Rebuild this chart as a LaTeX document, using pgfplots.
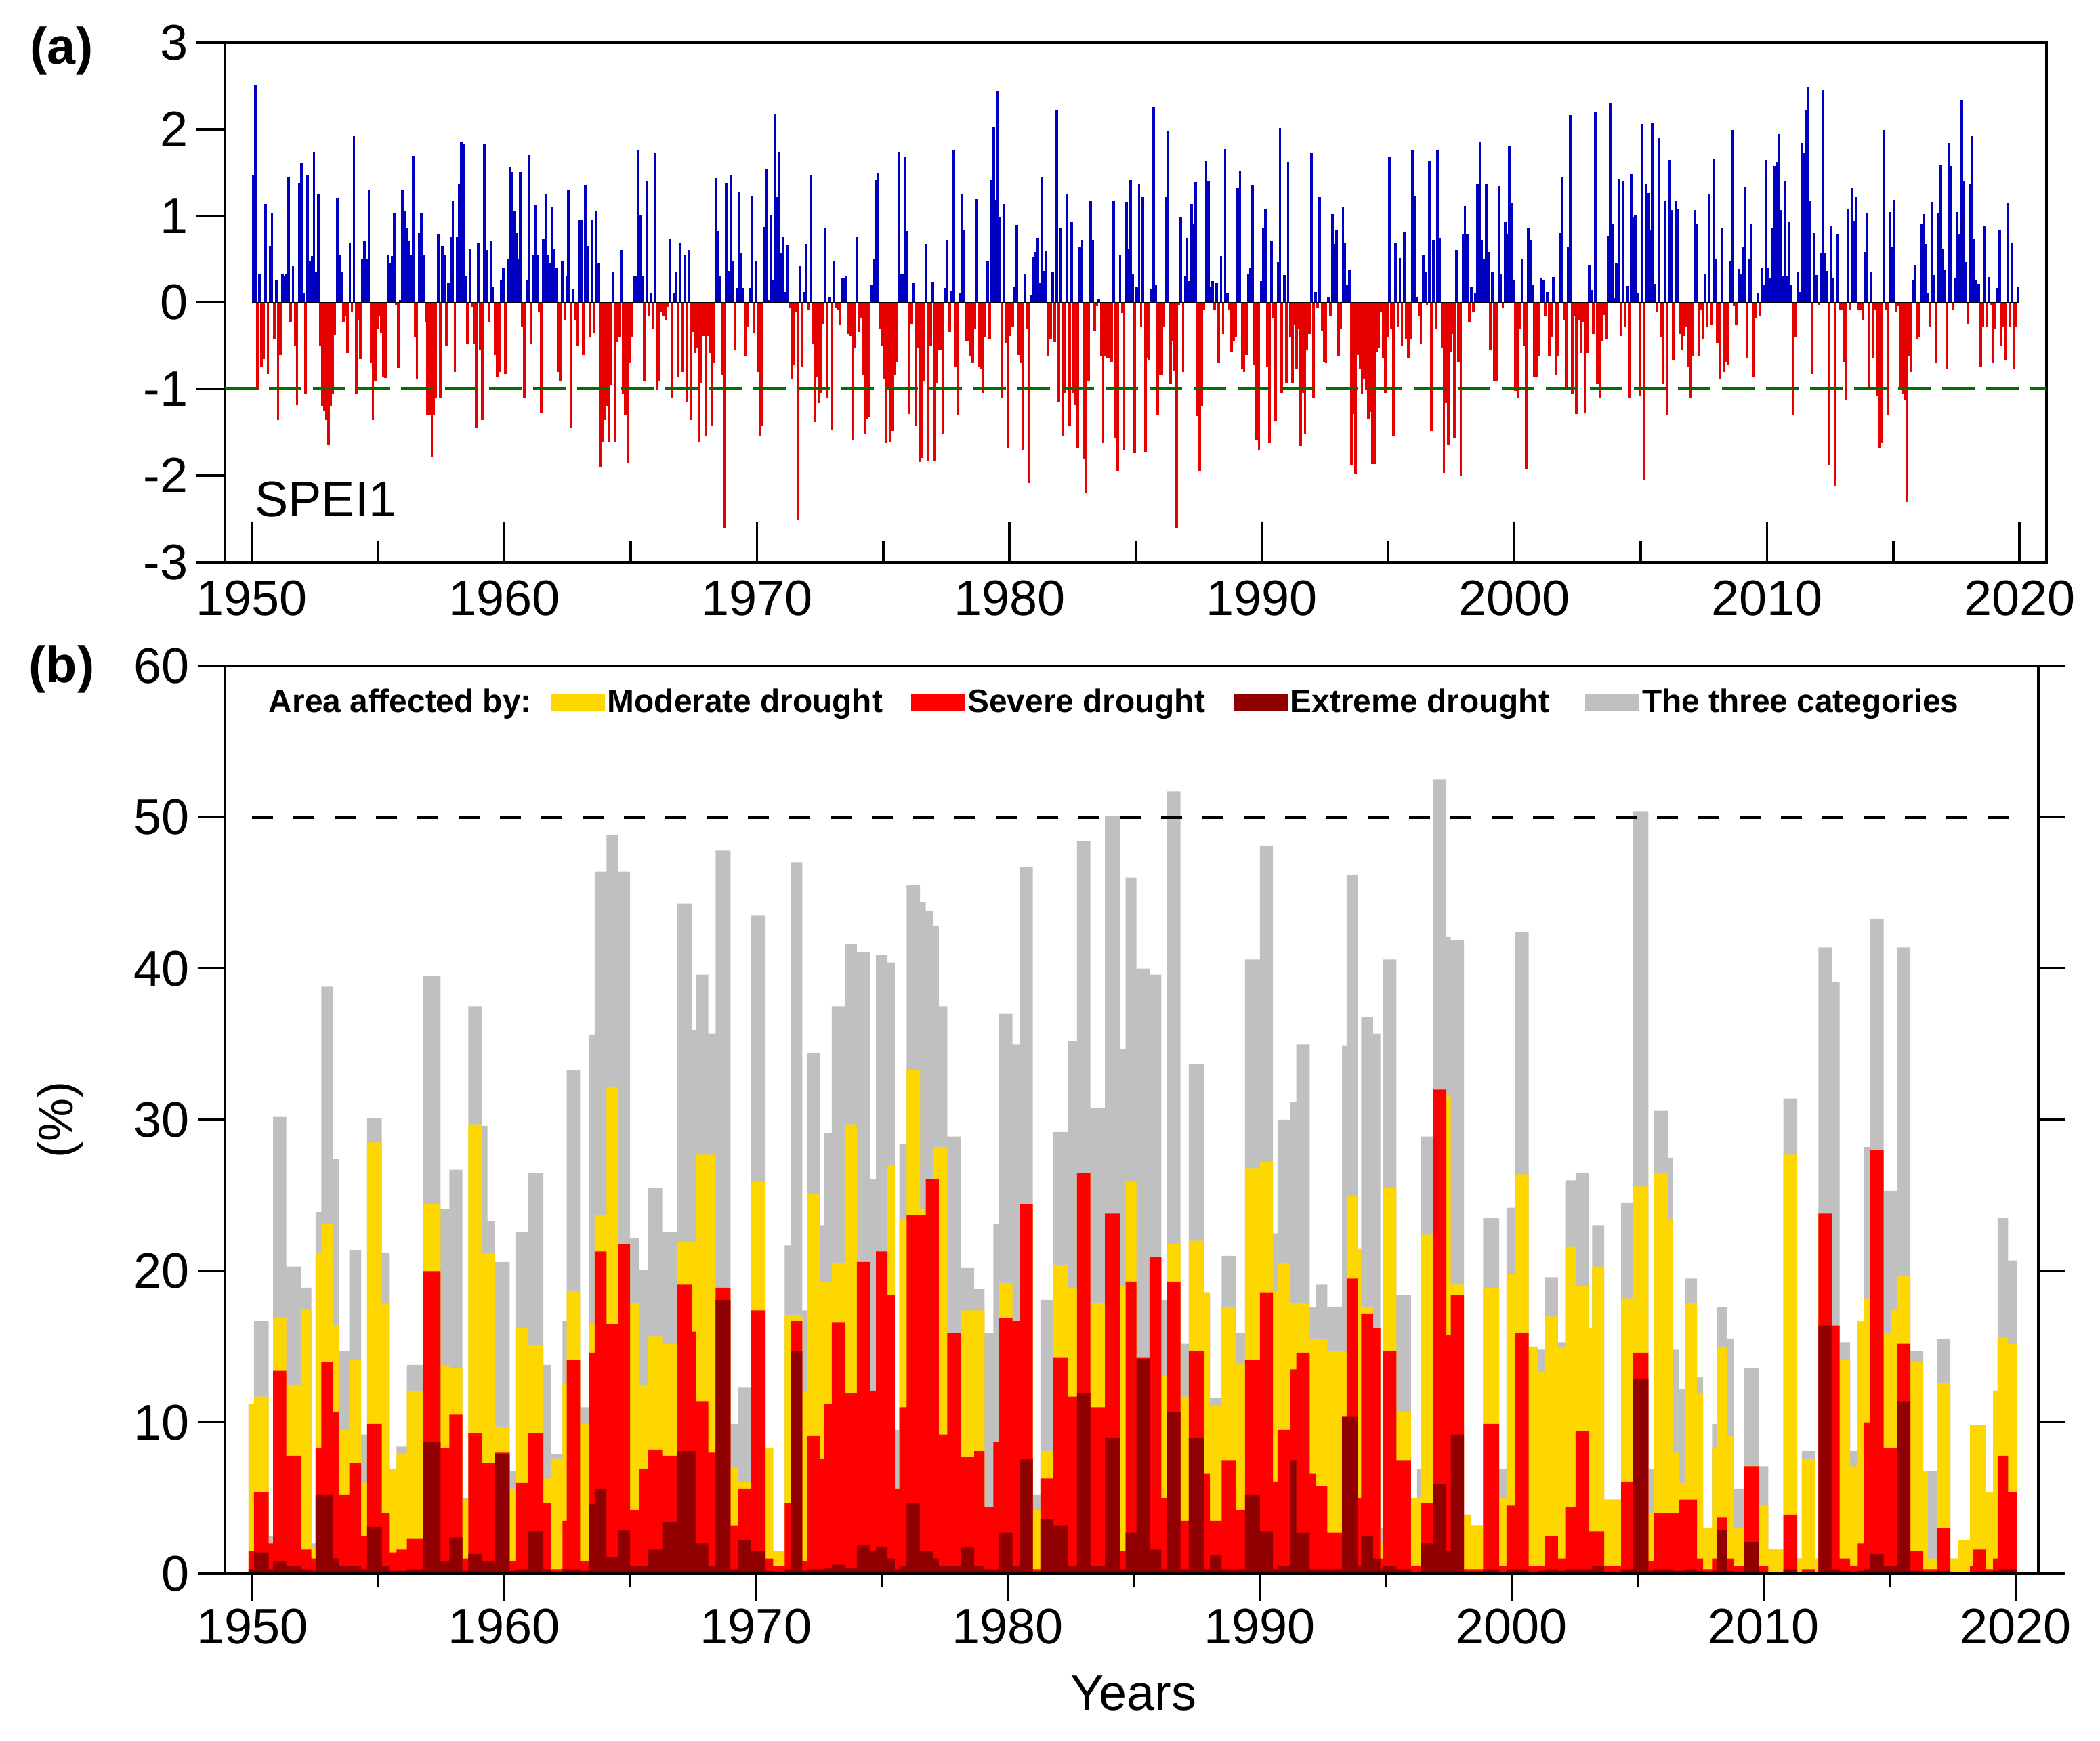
\documentclass[border=0pt]{standalone}
\usepackage{pgfplots}
\pgfplotsset{compat=1.18}
\usepackage{pgfplotstable}
\usepackage{fontspec}
\setmainfont{Liberation Sans}
\definecolor{cblue}{RGB}{0,0,195}
\definecolor{cred}{RGB}{230,0,0}
\definecolor{cgreen}{RGB}{0,110,0}
\definecolor{cgold}{RGB}{255,215,0}
\definecolor{cred2}{RGB}{255,0,0}
\definecolor{cdark}{RGB}{145,0,0}
\definecolor{cgray}{RGB}{192,192,192}

\pgfplotstableread[row sep=\\]{
x v\\
1950.04 1.46\\ 1950.13 2.5\\ 1950.21 -1.0\\ 1950.29 0.33\\ 1950.38 -0.74\\ 1950.46 -0.65\\ 1950.54 1.13\\ 1950.63 -0.82\\ 1950.71 0.65\\ 1950.79 1.03\\ 1950.88 -0.42\\ 1950.96 0.25\\
1951.04 -1.35\\ 1951.13 -0.6\\ 1951.21 0.33\\ 1951.29 0.3\\ 1951.38 0.32\\ 1951.46 1.45\\ 1951.54 -0.22\\ 1951.63 0.42\\ 1951.71 -0.5\\ 1951.79 -1.18\\ 1951.88 1.38\\ 1951.96 1.6\\
1952.04 0.1\\ 1952.13 -1.05\\ 1952.21 1.47\\ 1952.29 0.48\\ 1952.38 0.53\\ 1952.46 1.74\\ 1952.54 0.35\\ 1952.63 1.24\\ 1952.71 -0.5\\ 1952.79 -1.2\\ 1952.88 -1.25\\ 1952.96 -1.35\\
1953.04 -1.64\\ 1953.13 -1.2\\ 1953.21 -1.05\\ 1953.29 -0.37\\ 1953.38 1.2\\ 1953.46 0.55\\ 1953.54 0.35\\ 1953.63 -0.22\\ 1953.71 -0.15\\ 1953.79 -0.58\\ 1953.88 0.68\\ 1953.96 -0.1\\
1954.04 1.92\\ 1954.13 -1.05\\ 1954.21 -0.2\\ 1954.29 -0.65\\ 1954.38 0.5\\ 1954.46 0.7\\ 1954.54 0.5\\ 1954.63 1.3\\ 1954.71 -0.7\\ 1954.79 -1.35\\ 1954.88 -0.9\\ 1954.96 -0.3\\
1955.04 -0.15\\ 1955.13 -0.35\\ 1955.21 -0.85\\ 1955.29 -0.87\\ 1955.38 0.55\\ 1955.46 0.45\\ 1955.54 0.53\\ 1955.63 1.03\\ 1955.71 -0.02\\ 1955.79 -0.75\\ 1955.88 0.02\\ 1955.96 1.3\\
1956.04 1.05\\ 1956.13 0.85\\ 1956.21 0.7\\ 1956.29 0.55\\ 1956.38 1.68\\ 1956.46 -0.4\\ 1956.54 -0.88\\ 1956.63 0.8\\ 1956.71 1.03\\ 1956.79 0.55\\ 1956.88 -0.22\\ 1956.96 -1.3\\
1957.04 -1.3\\ 1957.13 -1.78\\ 1957.21 -1.3\\ 1957.29 -1.1\\ 1957.38 0.78\\ 1957.46 -1.1\\ 1957.54 0.65\\ 1957.63 0.55\\ 1957.71 -0.5\\ 1957.79 0.22\\ 1957.88 0.75\\ 1957.96 1.17\\
1958.04 -0.8\\ 1958.13 0.75\\ 1958.21 1.37\\ 1958.29 1.85\\ 1958.38 1.82\\ 1958.46 0.3\\ 1958.54 -0.48\\ 1958.63 0.62\\ 1958.71 -0.05\\ 1958.79 -0.48\\ 1958.88 -1.45\\ 1958.96 0.68\\
1959.04 -0.55\\ 1959.13 -1.35\\ 1959.21 1.82\\ 1959.29 0.6\\ 1959.38 -0.22\\ 1959.46 0.7\\ 1959.54 0.17\\ 1959.63 -0.6\\ 1959.71 -0.85\\ 1959.79 -0.8\\ 1959.88 0.25\\ 1959.96 0.4\\
1960.04 -0.82\\ 1960.13 0.5\\ 1960.21 1.56\\ 1960.29 1.5\\ 1960.38 1.05\\ 1960.46 0.8\\ 1960.54 0.5\\ 1960.63 1.5\\ 1960.71 -0.27\\ 1960.79 -1.1\\ 1960.88 0.25\\ 1960.96 1.7\\
1961.04 -0.48\\ 1961.13 0.55\\ 1961.21 1.12\\ 1961.29 0.55\\ 1961.38 -0.1\\ 1961.46 -1.27\\ 1961.54 0.73\\ 1961.63 1.25\\ 1961.71 0.55\\ 1961.79 0.45\\ 1961.88 1.1\\ 1961.96 0.62\\
1962.04 0.4\\ 1962.13 -0.8\\ 1962.21 -0.9\\ 1962.29 0.47\\ 1962.38 -0.2\\ 1962.46 0.3\\ 1962.54 1.3\\ 1962.63 -1.45\\ 1962.71 0.15\\ 1962.79 -0.2\\ 1962.88 -0.5\\ 1962.96 0.95\\
1963.04 0.95\\ 1963.13 -0.6\\ 1963.21 1.35\\ 1963.29 0.65\\ 1963.38 -0.4\\ 1963.46 0.95\\ 1963.54 -0.35\\ 1963.63 1.05\\ 1963.71 0.45\\ 1963.79 -1.9\\ 1963.88 -1.6\\ 1963.96 -1.35\\
1964.04 -1.2\\ 1964.13 -1.6\\ 1964.21 -0.95\\ 1964.29 0.35\\ 1964.38 -1.6\\ 1964.46 -0.45\\ 1964.54 -0.4\\ 1964.63 0.6\\ 1964.71 -1.05\\ 1964.79 -1.3\\ 1964.88 -1.85\\ 1964.96 -0.7\\
1965.04 -0.4\\ 1965.13 0.3\\ 1965.21 0.3\\ 1965.29 1.75\\ 1965.38 1.0\\ 1965.46 0.3\\ 1965.54 -0.9\\ 1965.63 1.4\\ 1965.71 -0.15\\ 1965.79 0.1\\ 1965.88 -0.3\\ 1965.96 1.72\\
1966.04 -1.0\\ 1966.13 -0.9\\ 1966.21 -0.1\\ 1966.29 -0.15\\ 1966.38 -0.2\\ 1966.46 -0.05\\ 1966.54 0.73\\ 1966.63 -1.1\\ 1966.71 0.1\\ 1966.79 0.35\\ 1966.88 -0.85\\ 1966.96 0.68\\
1967.04 -0.8\\ 1967.13 0.55\\ 1967.21 -1.15\\ 1967.29 0.6\\ 1967.38 -1.35\\ 1967.46 -0.34\\ 1967.54 -0.58\\ 1967.63 -0.52\\ 1967.71 -1.6\\ 1967.79 -0.92\\ 1967.88 -0.38\\ 1967.96 -1.54\\
1968.04 -0.38\\ 1968.13 -0.58\\ 1968.21 -1.42\\ 1968.29 -0.7\\ 1968.38 1.43\\ 1968.46 0.82\\ 1968.54 0.3\\ 1968.63 -0.84\\ 1968.71 -2.6\\ 1968.79 1.38\\ 1968.88 0.36\\ 1968.96 1.46\\
1969.04 0.48\\ 1969.13 -0.54\\ 1969.21 0.16\\ 1969.29 1.27\\ 1969.38 0.56\\ 1969.46 0.16\\ 1969.54 -0.62\\ 1969.63 -0.28\\ 1969.71 0.16\\ 1969.79 1.23\\ 1969.88 -0.35\\ 1969.96 0.48\\
1970.04 -0.8\\ 1970.13 -1.54\\ 1970.21 -1.42\\ 1970.29 0.87\\ 1970.38 1.54\\ 1970.46 0.02\\ 1970.54 1.0\\ 1970.63 0.26\\ 1970.71 2.17\\ 1970.79 1.21\\ 1970.88 1.73\\ 1970.96 0.56\\
1971.04 0.75\\ 1971.13 0.12\\ 1971.21 0.66\\ 1971.29 -0.06\\ 1971.38 -0.88\\ 1971.46 -0.72\\ 1971.54 -0.1\\ 1971.63 -2.5\\ 1971.71 0.42\\ 1971.79 -0.74\\ 1971.88 0.12\\ 1971.96 0.67\\
1972.04 -0.08\\ 1972.13 1.47\\ 1972.21 -0.48\\ 1972.29 -1.38\\ 1972.38 -0.86\\ 1972.46 -1.16\\ 1972.54 -1.04\\ 1972.63 -0.25\\ 1972.71 0.85\\ 1972.79 -1.1\\ 1972.88 0.06\\ 1972.96 -1.47\\
1973.04 0.48\\ 1973.13 -0.06\\ 1973.21 -0.08\\ 1973.29 -0.26\\ 1973.38 0.27\\ 1973.46 0.28\\ 1973.54 0.3\\ 1973.63 -0.36\\ 1973.71 -0.38\\ 1973.79 -1.58\\ 1973.88 -0.52\\ 1973.96 0.75\\
1974.04 -0.34\\ 1974.13 -0.18\\ 1974.21 -0.84\\ 1974.29 -1.52\\ 1974.38 -1.34\\ 1974.46 -1.32\\ 1974.54 0.2\\ 1974.63 0.49\\ 1974.71 1.41\\ 1974.79 1.49\\ 1974.88 -0.3\\ 1974.96 -0.5\\
1975.04 -0.88\\ 1975.13 -1.62\\ 1975.21 -1.0\\ 1975.29 -1.6\\ 1975.38 -1.48\\ 1975.46 -0.84\\ 1975.54 -0.68\\ 1975.63 1.74\\ 1975.71 0.32\\ 1975.79 0.32\\ 1975.88 1.67\\ 1975.96 0.82\\
1976.04 -1.28\\ 1976.13 -0.24\\ 1976.21 0.22\\ 1976.29 -1.42\\ 1976.38 -0.52\\ 1976.46 -1.84\\ 1976.54 -1.79\\ 1976.63 -0.9\\ 1976.71 0.67\\ 1976.79 -1.82\\ 1976.88 -0.5\\ 1976.96 0.23\\
1977.04 -1.82\\ 1977.13 -0.92\\ 1977.21 -0.54\\ 1977.29 -0.54\\ 1977.38 -1.52\\ 1977.46 0.16\\ 1977.54 0.72\\ 1977.63 -0.34\\ 1977.71 0.13\\ 1977.79 1.76\\ 1977.88 -0.74\\ 1977.96 -1.3\\
1978.04 0.1\\ 1978.13 1.25\\ 1978.21 0.84\\ 1978.29 -0.44\\ 1978.38 -0.44\\ 1978.46 -0.62\\ 1978.54 -0.7\\ 1978.63 -0.3\\ 1978.71 1.19\\ 1978.79 -0.74\\ 1978.88 -0.76\\ 1978.96 -1.04\\
1979.04 -0.4\\ 1979.13 0.47\\ 1979.21 -0.42\\ 1979.29 1.41\\ 1979.38 2.02\\ 1979.46 1.18\\ 1979.54 2.44\\ 1979.63 0.98\\ 1979.71 -1.1\\ 1979.79 1.13\\ 1979.88 -0.47\\ 1979.96 -1.68\\
1980.04 -0.38\\ 1980.13 -0.28\\ 1980.21 0.18\\ 1980.29 0.89\\ 1980.38 -0.6\\ 1980.46 -0.7\\ 1980.54 -1.7\\ 1980.63 0.32\\ 1980.71 -0.3\\ 1980.79 -2.08\\ 1980.88 0.08\\ 1980.96 0.52\\
1981.04 0.58\\ 1981.13 0.74\\ 1981.21 0.22\\ 1981.29 1.44\\ 1981.38 0.36\\ 1981.46 0.59\\ 1981.54 -0.62\\ 1981.63 -0.42\\ 1981.71 0.34\\ 1981.79 -0.45\\ 1981.88 2.22\\ 1981.96 -1.14\\
1982.04 0.86\\ 1982.13 -1.54\\ 1982.21 -1.04\\ 1982.29 1.25\\ 1982.38 -1.42\\ 1982.46 0.92\\ 1982.54 -1.04\\ 1982.63 -1.18\\ 1982.71 -1.68\\ 1982.79 0.63\\ 1982.88 0.71\\ 1982.96 -1.8\\
1983.04 -2.2\\ 1983.13 -0.9\\ 1983.21 1.17\\ 1983.29 0.72\\ 1983.38 -0.32\\ 1983.46 -0.04\\ 1983.54 0.03\\ 1983.63 -0.62\\ 1983.71 -1.62\\ 1983.79 -0.62\\ 1983.88 -0.64\\ 1983.96 -0.64\\
1984.04 -0.68\\ 1984.13 1.17\\ 1984.21 -1.56\\ 1984.29 -1.94\\ 1984.38 0.54\\ 1984.46 -0.12\\ 1984.54 -1.7\\ 1984.63 1.16\\ 1984.71 0.61\\ 1984.79 1.41\\ 1984.88 0.32\\ 1984.96 -1.74\\
1985.04 0.17\\ 1985.13 1.37\\ 1985.21 -0.28\\ 1985.29 1.21\\ 1985.38 -1.72\\ 1985.46 -0.64\\ 1985.54 -0.66\\ 1985.63 0.15\\ 1985.71 2.25\\ 1985.79 0.2\\ 1985.88 -1.3\\ 1985.96 -0.84\\
1986.04 -0.84\\ 1986.13 -0.28\\ 1986.21 1.21\\ 1986.29 1.97\\ 1986.38 -0.94\\ 1986.46 -0.44\\ 1986.54 -0.78\\ 1986.63 -2.6\\ 1986.71 -0.02\\ 1986.79 0.98\\ 1986.88 -0.8\\ 1986.96 0.3\\
1987.04 0.74\\ 1987.13 0.24\\ 1987.21 1.13\\ 1987.29 0.9\\ 1987.38 1.39\\ 1987.46 -1.31\\ 1987.54 -1.94\\ 1987.63 -1.2\\ 1987.71 -0.08\\ 1987.79 1.63\\ 1987.88 1.4\\ 1987.96 0.17\\
1988.04 0.24\\ 1988.13 -0.08\\ 1988.21 0.22\\ 1988.29 -0.7\\ 1988.38 0.53\\ 1988.46 -0.36\\ 1988.54 1.77\\ 1988.63 0.11\\ 1988.71 -0.08\\ 1988.79 -0.56\\ 1988.88 -0.44\\ 1988.96 -0.39\\
1989.04 1.32\\ 1989.13 1.52\\ 1989.21 -0.76\\ 1989.29 -0.8\\ 1989.38 -0.6\\ 1989.46 0.32\\ 1989.54 0.39\\ 1989.63 1.35\\ 1989.71 -0.72\\ 1989.79 -1.58\\ 1989.88 -1.7\\ 1989.96 0.24\\
1990.04 0.86\\ 1990.13 1.08\\ 1990.21 -0.74\\ 1990.29 -1.62\\ 1990.38 0.7\\ 1990.46 -0.18\\ 1990.54 -1.36\\ 1990.63 0.46\\ 1990.71 2.01\\ 1990.79 -1.04\\ 1990.88 0.31\\ 1990.96 -0.92\\
1991.04 1.62\\ 1991.13 -0.4\\ 1991.21 -0.92\\ 1991.29 -0.26\\ 1991.38 -0.76\\ 1991.46 -0.3\\ 1991.54 -1.66\\ 1991.63 -1.04\\ 1991.71 -1.52\\ 1991.79 -0.55\\ 1991.88 -0.36\\ 1991.96 1.72\\
1992.04 -1.1\\ 1992.13 0.12\\ 1992.21 -0.06\\ 1992.29 1.21\\ 1992.38 -0.32\\ 1992.46 -0.68\\ 1992.54 -0.7\\ 1992.63 0.06\\ 1992.71 -0.16\\ 1992.79 1.02\\ 1992.88 0.67\\ 1992.96 0.84\\
1993.04 -0.62\\ 1993.13 -0.3\\ 1993.21 1.1\\ 1993.29 0.69\\ 1993.38 0.2\\ 1993.46 0.37\\ 1993.54 -1.88\\ 1993.63 -1.28\\ 1993.71 -1.98\\ 1993.79 -0.6\\ 1993.88 -0.76\\ 1993.96 -1.06\\
1994.04 -0.88\\ 1994.13 -1.0\\ 1994.21 -1.34\\ 1994.29 -1.26\\ 1994.38 -1.86\\ 1994.46 -1.86\\ 1994.54 -0.56\\ 1994.63 -0.52\\ 1994.71 -0.1\\ 1994.79 -0.64\\ 1994.88 -1.04\\ 1994.96 -0.4\\
1995.04 1.67\\ 1995.13 -0.3\\ 1995.21 -1.54\\ 1995.29 0.68\\ 1995.38 -0.28\\ 1995.46 0.51\\ 1995.54 -0.5\\ 1995.63 0.81\\ 1995.71 -0.42\\ 1995.79 -0.64\\ 1995.88 -0.42\\ 1995.96 1.75\\
1996.04 1.23\\ 1996.13 0.06\\ 1996.21 -0.16\\ 1996.29 -0.48\\ 1996.38 0.54\\ 1996.46 0.35\\ 1996.54 -0.02\\ 1996.63 1.63\\ 1996.71 -1.48\\ 1996.79 0.72\\ 1996.88 -0.3\\ 1996.96 1.75\\
1997.04 0.74\\ 1997.13 -0.52\\ 1997.21 -1.96\\ 1997.29 -1.16\\ 1997.38 -1.64\\ 1997.46 -0.56\\ 1997.54 -0.36\\ 1997.63 -1.56\\ 1997.71 0.6\\ 1997.79 -0.68\\ 1997.88 -2.0\\ 1997.96 0.78\\
1998.04 1.11\\ 1998.13 0.78\\ 1998.21 -0.22\\ 1998.29 0.17\\ 1998.38 -0.1\\ 1998.46 0.1\\ 1998.54 1.37\\ 1998.63 1.85\\ 1998.71 0.72\\ 1998.79 0.49\\ 1998.88 1.37\\ 1998.96 0.58\\
1999.04 -0.54\\ 1999.13 0.35\\ 1999.21 -0.9\\ 1999.29 -0.9\\ 1999.38 1.34\\ 1999.46 0.33\\ 1999.54 -0.06\\ 1999.63 0.92\\ 1999.71 0.79\\ 1999.79 1.8\\ 1999.88 1.14\\ 1999.96 0.26\\
2000.04 -1.02\\ 2000.13 -1.1\\ 2000.21 -0.3\\ 2000.29 0.49\\ 2000.38 -0.5\\ 2000.46 -1.92\\ 2000.54 0.85\\ 2000.63 0.72\\ 2000.71 0.2\\ 2000.79 -0.86\\ 2000.88 -0.86\\ 2000.96 -0.62\\
2001.04 0.27\\ 2001.13 0.25\\ 2001.21 -0.16\\ 2001.29 0.12\\ 2001.38 -0.62\\ 2001.46 -0.4\\ 2001.54 0.29\\ 2001.63 -0.84\\ 2001.71 -0.62\\ 2001.79 0.8\\ 2001.88 1.44\\ 2001.96 -0.2\\
2002.04 -0.98\\ 2002.13 0.64\\ 2002.21 2.16\\ 2002.29 -1.06\\ 2002.38 -0.16\\ 2002.46 -1.28\\ 2002.54 -0.2\\ 2002.63 -0.58\\ 2002.71 -0.22\\ 2002.79 -1.27\\ 2002.88 -0.58\\ 2002.96 0.43\\
2003.04 0.14\\ 2003.13 -0.36\\ 2003.21 2.19\\ 2003.29 -0.94\\ 2003.38 -1.1\\ 2003.46 -0.44\\ 2003.54 -0.14\\ 2003.63 -0.42\\ 2003.71 0.76\\ 2003.79 2.3\\ 2003.88 0.9\\ 2003.96 0.05\\
2004.04 0.45\\ 2004.13 1.42\\ 2004.21 -0.38\\ 2004.29 1.4\\ 2004.38 -0.28\\ 2004.46 0.19\\ 2004.54 -1.1\\ 2004.63 1.48\\ 2004.71 0.98\\ 2004.79 1.0\\ 2004.88 0.11\\ 2004.96 -1.08\\
2005.04 2.06\\ 2005.13 -2.04\\ 2005.21 1.37\\ 2005.29 1.26\\ 2005.38 0.83\\ 2005.46 2.07\\ 2005.54 0.21\\ 2005.63 -0.1\\ 2005.71 1.9\\ 2005.79 -0.4\\ 2005.88 -0.94\\ 2005.96 1.17\\
2006.04 -1.3\\ 2006.13 1.64\\ 2006.21 1.06\\ 2006.29 -0.66\\ 2006.38 1.17\\ 2006.46 1.08\\ 2006.54 -0.36\\ 2006.63 -0.54\\ 2006.71 -0.38\\ 2006.79 -0.28\\ 2006.88 -0.74\\ 2006.96 -1.1\\
2007.04 -0.62\\ 2007.13 1.06\\ 2007.21 0.9\\ 2007.29 -0.62\\ 2007.38 -0.08\\ 2007.46 -0.42\\ 2007.54 0.33\\ 2007.63 -0.28\\ 2007.71 1.25\\ 2007.79 -0.26\\ 2007.88 1.66\\ 2007.96 0.5\\
2008.04 -0.46\\ 2008.13 -0.88\\ 2008.21 0.86\\ 2008.29 -0.8\\ 2008.38 -0.68\\ 2008.46 -0.72\\ 2008.54 0.48\\ 2008.63 1.99\\ 2008.71 -0.04\\ 2008.79 -0.26\\ 2008.88 0.38\\ 2008.96 0.33\\
2009.04 0.64\\ 2009.13 1.33\\ 2009.21 -0.64\\ 2009.29 0.5\\ 2009.38 0.9\\ 2009.46 -0.86\\ 2009.54 -0.18\\ 2009.63 0.1\\ 2009.71 -0.16\\ 2009.79 0.39\\ 2009.88 0.2\\ 2009.96 1.64\\
2010.04 0.4\\ 2010.13 0.27\\ 2010.21 0.86\\ 2010.29 1.57\\ 2010.38 1.62\\ 2010.46 1.94\\ 2010.54 1.06\\ 2010.63 0.3\\ 2010.71 1.4\\ 2010.79 0.3\\ 2010.88 0.92\\ 2010.96 0.2\\
2011.04 -1.3\\ 2011.13 -0.4\\ 2011.21 0.34\\ 2011.29 0.12\\ 2011.38 1.84\\ 2011.46 1.72\\ 2011.54 2.22\\ 2011.63 2.48\\ 2011.71 1.17\\ 2011.79 -0.82\\ 2011.88 0.8\\ 2011.96 0.31\\
2012.04 -0.02\\ 2012.13 0.57\\ 2012.21 2.45\\ 2012.29 0.56\\ 2012.38 0.36\\ 2012.46 -1.88\\ 2012.54 0.88\\ 2012.63 0.28\\ 2012.71 -2.12\\ 2012.79 0.78\\ 2012.88 -0.08\\ 2012.96 -0.08\\
2013.04 -0.68\\ 2013.13 -1.12\\ 2013.21 1.08\\ 2013.29 -0.08\\ 2013.38 1.32\\ 2013.46 0.94\\ 2013.54 1.21\\ 2013.63 -0.08\\ 2013.71 -0.08\\ 2013.79 -0.2\\ 2013.88 0.58\\ 2013.96 1.03\\
2014.04 -0.98\\ 2014.13 0.35\\ 2014.21 -0.64\\ 2014.29 -0.08\\ 2014.38 -1.08\\ 2014.46 -1.68\\ 2014.54 -1.62\\ 2014.63 1.99\\ 2014.71 -0.08\\ 2014.79 -1.3\\ 2014.88 1.04\\ 2014.96 0.64\\
2015.04 1.18\\ 2015.13 -0.1\\ 2015.21 -0.04\\ 2015.29 -1.0\\ 2015.38 -1.06\\ 2015.46 -1.12\\ 2015.54 -2.3\\ 2015.63 -0.62\\ 2015.71 -0.8\\ 2015.79 0.25\\ 2015.88 0.43\\ 2015.96 -0.42\\
2016.04 -0.4\\ 2016.13 0.9\\ 2016.21 1.02\\ 2016.29 0.67\\ 2016.38 0.1\\ 2016.46 -0.28\\ 2016.54 1.16\\ 2016.63 0.31\\ 2016.71 -0.7\\ 2016.79 1.03\\ 2016.88 1.58\\ 2016.96 0.61\\
2017.04 0.37\\ 2017.13 -0.76\\ 2017.21 1.84\\ 2017.29 1.57\\ 2017.38 -0.08\\ 2017.46 0.28\\ 2017.54 1.04\\ 2017.63 0.78\\ 2017.71 2.34\\ 2017.79 1.4\\ 2017.88 0.46\\ 2017.96 -0.24\\
2018.04 1.36\\ 2018.13 1.92\\ 2018.21 0.73\\ 2018.29 0.25\\ 2018.38 0.21\\ 2018.46 -0.74\\ 2018.54 -0.28\\ 2018.63 0.88\\ 2018.71 -0.28\\ 2018.79 0.29\\ 2018.88 -0.02\\ 2018.96 -0.7\\
2019.04 -0.3\\ 2019.13 0.16\\ 2019.21 0.84\\ 2019.29 -0.5\\ 2019.38 -0.28\\ 2019.46 -0.66\\ 2019.54 1.14\\ 2019.63 -0.28\\ 2019.71 0.68\\ 2019.79 -0.76\\ 2019.88 -0.28\\ 2019.96 0.18\\
}\spei

\pgfplotstableread[row sep=\\]{
x tot mod sev ext\\
1949.86 11.2 11.2 1.5 0.3\\
1950.07 16.7 11.7 5.4 1.4\\
1950.66 2.5 2.0 2.0 0.3\\
1950.83 30.2 16.9 13.4 0.8\\
1951.36 20.3 12.5 7.8 0.5\\
1951.94 18.9 17.5 1.6 0.3\\
1952.35 2.0 1.8 1.0 0.2\\
1952.52 23.9 21.2 8.3 5.2\\
1952.75 38.8 23.1 14.0 5.2\\
1953.22 27.4 16.4 10.7 1.0\\
1953.45 14.7 9.5 5.2 0.5\\
1953.86 21.4 14.1 7.3 0.5\\
1954.33 9.2 6.0 2.5 0.3\\
1954.56 30.1 28.5 9.9 3.1\\
1955.15 21.2 17.9 4.0 0.5\\
1955.44 6.9 6.9 1.4 0.2\\
1955.73 8.4 7.9 1.6 0.2\\
1956.14 13.8 12.1 2.3 0.3\\
1956.78 39.5 24.4 20.0 8.7\\
1957.48 24.1 13.8 8.3 0.8\\
1957.83 26.7 13.6 10.5 2.4\\
1958.35 5.0 4.9 1.0 0.2\\
1958.58 37.5 29.7 9.3 1.3\\
1959.11 29.6 21.2 7.3 0.8\\
1959.34 23.3 21.2 7.3 0.8\\
1959.63 20.6 9.7 8.0 7.9\\
1960.22 6.8 5.6 0.8 0.2\\
1960.45 22.6 16.2 6.0 0.3\\
1960.97 26.5 15.1 9.3 2.8\\
1961.56 13.8 6.3 4.7 0.3\\
1961.85 7.9 7.6 0.3 0.1\\
1962.32 16.7 12.6 3.5 0.3\\
1962.49 33.3 18.7 14.1 0.3\\
1963.02 11.0 9.9 0.8 0.2\\
1963.37 35.6 16.5 14.6 4.6\\
1963.60 46.4 23.7 21.3 5.6\\
1964.07 48.8 32.2 16.5 1.1\\
1964.53 46.4 21.8 21.8 2.9\\
1965.00 22.2 17.9 4.2 0.5\\
1965.35 20.1 12.5 6.9 0.5\\
1965.70 25.5 15.7 8.2 1.6\\
1966.28 22.6 15.2 7.8 3.4\\
1966.86 44.3 21.9 19.1 8.1\\
1967.45 35.9 21.9 16.0 8.1\\
1967.61 39.6 27.7 11.4 2.0\\
1968.11 35.7 27.7 8.0 0.5\\
1968.40 47.8 18.9 18.9 18.1\\
1968.99 9.9 7.0 3.2 0.3\\
1969.28 12.3 6.1 5.6 2.2\\
1969.80 43.5 25.9 17.4 1.5\\
1970.38 8.3 8.3 1.0 0.2\\
1970.68 1.5 1.5 0.5 0.1\\
1971.14 21.7 17.1 4.7 0.3\\
1971.38 47.0 17.1 16.7 14.7\\
1971.84 17.4 12.0 0.8 0.2\\
1972.02 34.4 25.1 9.1 0.3\\
1972.54 23.0 19.3 7.6 0.3\\
1972.72 29.1 19.3 11.2 0.4\\
1973.01 37.5 20.5 16.6 0.6\\
1973.53 41.6 29.7 11.9 0.4\\
1974.00 41.1 20.6 20.6 1.9\\
1974.52 26.1 12.1 12.1 1.5\\
1974.76 40.9 21.3 21.3 1.8\\
1975.22 40.4 27.0 18.4 1.0\\
1975.51 9.5 5.6 5.6 0.3\\
1975.69 28.4 23.4 11.0 0.5\\
1975.98 45.5 33.3 23.7 4.7\\
1976.51 44.4 24.1 23.7 1.5\\
1976.74 43.8 26.1 26.1 1.5\\
1977.03 42.8 28.2 26.1 1.0\\
1977.26 37.5 28.2 9.2 0.5\\
1977.59 28.9 15.9 15.9 0.5\\
1978.14 20.2 17.4 7.7 1.8\\
1978.66 18.8 17.4 8.1 0.5\\
1979.07 15.9 4.4 4.4 0.3\\
1979.42 23.1 8.7 8.7 0.3\\
1979.65 37.0 19.2 16.9 2.7\\
1980.18 35.0 16.7 16.7 0.5\\
1980.47 46.7 24.4 24.4 7.6\\
1980.99 5.2 4.2 0.3 0.1\\
1981.29 18.1 8.1 6.3 3.6\\
1981.81 29.2 20.4 14.3 3.2\\
1982.39 35.2 18.9 11.7 0.5\\
1982.74 48.4 26.5 26.5 11.9\\
1983.27 30.8 17.9 11.0 0.5\\
1983.85 50.1 23.8 23.8 9.0\\
1984.44 34.7 19.0 1.5 0.3\\
1984.67 46.0 25.9 19.3 2.7\\
1985.10 40.0 14.3 14.3 14.2\\
1985.62 39.6 20.9 20.9 1.6\\
1986.09 18.1 13.1 5.0 0.3\\
1986.32 51.7 21.8 19.3 10.7\\
1986.85 15.2 11.7 3.5 0.3\\
1987.18 33.7 22.0 14.7 9.0\\
1987.78 18.6 18.6 6.6 0.3\\
1988.02 11.6 11.1 3.5 1.2\\
1988.48 21.0 17.6 7.5 0.3\\
1989.06 15.9 13.9 4.2 0.3\\
1989.41 40.6 26.8 14.1 5.2\\
1990.00 48.1 27.2 18.6 2.8\\
1990.52 22.5 18.7 6.1 0.3\\
1990.70 30.0 20.5 9.5 0.5\\
1991.22 31.2 17.9 13.5 7.5\\
1991.45 35.0 17.9 14.6 2.7\\
1991.98 17.6 15.5 6.6 0.3\\
1992.21 19.1 15.5 5.8 0.3\\
1992.68 17.6 14.7 2.7 0.3\\
1993.26 34.9 14.7 10.4 10.4\\
1993.44 46.2 25.0 19.5 10.4\\
1993.90 21.5 21.5 5.0 0.5\\
1994.02 36.8 17.6 17.2 2.5\\
1994.49 35.7 16.2 16.2 1.0\\
1994.78 3.0 2.0 1.0 0.3\\
1994.89 40.6 25.5 14.7 0.5\\
1995.42 18.4 10.7 7.5 0.3\\
1996.00 5.0 5.0 0.5 0.1\\
1996.24 6.9 5.0 0.5 0.1\\
1996.41 28.9 22.4 4.7 2.0\\
1996.88 52.5 32.0 32.0 5.9\\
1997.40 42.1 31.6 15.8 1.5\\
1997.58 41.9 19.1 18.4 9.2\\
1998.10 3.9 3.9 0.3 0.1\\
1998.39 3.2 3.2 0.3 0.1\\
1998.86 23.5 18.9 9.9 0.3\\
1999.50 6.9 5.0 0.5 0.1\\
1999.79 24.2 19.8 4.5 0.3\\
2000.14 42.4 26.4 15.9 0.3\\
2000.67 15.0 15.0 0.5 0.1\\
2001.02 14.8 13.3 0.5 0.2\\
2001.31 19.6 17.0 2.5 0.3\\
2001.83 15.3 15.0 1.0 0.2\\
2002.12 26.0 21.6 4.4 0.3\\
2002.53 26.5 19.0 9.4 0.3\\
2003.07 16.2 16.2 2.8 0.3\\
2003.19 23.0 20.3 2.8 0.5\\
2003.67 4.9 4.9 0.5 0.1\\
2004.34 24.5 18.2 6.1 0.3\\
2004.82 50.4 25.6 14.6 12.9\\
2005.42 6.9 4.0 0.8 0.2\\
2005.66 30.6 26.5 4.0 0.3\\
2006.20 27.5 23.4 4.0 0.3\\
2006.39 14.8 8.0 4.0 0.2\\
2006.63 12.2 6.0 4.9 0.2\\
2006.87 19.5 17.9 4.9 0.3\\
2007.35 13.0 11.9 1.0 0.2\\
2007.59 3.0 3.0 0.3 0.1\\
2007.95 9.9 8.3 1.0 0.2\\
2008.13 17.6 15.0 3.7 2.9\\
2008.55 15.5 9.1 1.0 0.2\\
2008.80 5.6 3.0 0.5 0.1\\
2009.22 13.6 7.1 7.1 2.1\\
2009.82 7.1 4.5 0.5 0.1\\
2010.18 1.6 1.6 0.1 0.0\\
2010.78 31.4 27.7 3.9 0.3\\
2011.33 1.0 1.0 0.1 0.0\\
2011.51 8.1 7.6 0.3 0.1\\
2012.05 1.0 1.0 0.1 0.0\\
2012.17 41.4 23.8 23.8 16.4\\
2012.71 39.1 16.4 16.4 0.3\\
2013.01 15.3 14.1 1.0 0.2\\
2013.43 8.1 7.1 0.5 0.1\\
2013.73 16.7 16.7 2.0 0.2\\
2013.98 28.2 18.2 10.0 0.3\\
2014.22 43.3 28.0 28.0 1.3\\
2014.76 25.3 15.9 8.3 0.5\\
2015.06 25.3 17.5 8.3 0.5\\
2015.30 41.4 19.7 15.2 11.4\\
2015.82 14.7 14.0 1.5 0.2\\
2016.33 6.8 6.8 0.3 0.1\\
2016.51 6.8 1.0 0.3 0.1\\
2016.87 15.5 12.6 3.0 0.2\\
2017.41 1.0 1.0 0.1 0.0\\
2017.71 2.2 2.2 0.1 0.0\\
2018.19 9.8 9.8 0.5 0.1\\
2018.31 9.8 9.8 1.6 0.1\\
2018.80 5.4 5.4 0.3 0.1\\
2019.10 12.1 12.1 1.0 0.2\\
2019.28 23.5 15.6 7.8 0.3\\
2019.70 20.7 15.2 5.4 0.3\\
2020.05 0 0 0 0\\
}\area

\begin{document}
\begin{tikzpicture}[font=\fontsize{21}{25}\selectfont]
\path[use as bounding box] (0,0) rectangle (310mm,257mm);
\node[font=\fontsize{21.5}{25}\selectfont\bfseries] at (9.1mm,249.5mm) {(a)};
\node[font=\fontsize{21.5}{25}\selectfont\bfseries] at (9.1mm,158.2mm) {(b)};
\begin{axis}[
  at={(33.2mm,174.0mm)}, anchor=south west, scale only axis,
  width=268.9mm, height=76.7mm,
  xmin=1948.93, xmax=2021.07, ymin=-3, ymax=3,
  xtick={1950,1960,...,2020}, minor xtick={1955,1965,...,2015},
  ytick={-3,-2,...,3},
  xtick pos=lower, ytick pos=left,
  xtick align=inside, ytick align=outside,
  major tick length=4.2mm, minor tick length=3.1mm,
  major x tick style={/pgfplots/major tick length=5.9mm},
  tick style={black, line width=1pt},
  axis line style={line width=1pt},
  tick label style={font=\fontsize{21}{25}\selectfont},
  xticklabel style={yshift=-1.5mm},
  /pgf/number format/assume math mode=true,
  /pgf/number format/1000 sep={},
]
\addplot[ybar, bar width=0.07, bar shift=0pt, fill=cblue, draw=cblue, line width=0.3pt, restrict y to domain=0:5] table[x=x,y=v]{\spei};
\addplot[ybar, bar width=0.07, bar shift=0pt, fill=cred, draw=cred, line width=0.3pt, restrict y to domain=-5:0] table[x=x,y=v]{\spei};
\addplot[black, line width=0.5pt] coordinates {(1950,0) (2020,0)};
\addplot[cgreen, line width=1.2pt, dash pattern=on 4.8mm off 1.7mm] coordinates {(1948.93,-1) (2021.07,-1)};
\node[anchor=base west, inner sep=0pt, font=\fontsize{21}{25}\selectfont] at (axis cs:1950.1,-2.47) {SPEI1};
\end{axis}
\begin{axis}[
  at={(33.2mm,24.7mm)}, anchor=south west, scale only axis,
  width=267.7mm, height=134.0mm,
  xmin=1948.92, xmax=2020.9, ymin=0, ymax=60,
  xtick={1950,1960,...,2020}, minor xtick={1955,1965,...,2015},
  ytick={0,10,...,60},
  xtick pos=lower, ytick pos=both, yticklabel pos=left,
  tick align=outside,
  major tick length=4mm, minor tick length=2mm,
  tick style={black, line width=1pt},
  axis line style={line width=1pt},
  axis on top,
  tick label style={font=\fontsize{21}{25}\selectfont},
  /pgf/number format/assume math mode=true,
  /pgf/number format/1000 sep={},
  xlabel={Years}, ylabel={(\%)},
  xlabel style={font=\fontsize{21}{25}\selectfont, at={(axis description cs:0.501,-0.132)}, anchor=center},
  ylabel style={font=\fontsize{20.5}{24}\selectfont, at={(axis description cs:-0.0907,0.5)}, anchor=center},
  legend columns=-1,
  legend style={draw=none, fill=none, at={(0.0225,0.96)}, anchor=west, inner sep=0pt,
    nodes={inner sep=0.4mm},
    font=\fontsize{13.6}{16}\selectfont\bfseries,
    /tikz/column 2/.style={column sep=2.4mm},
    /tikz/column 4/.style={column sep=3.75mm},
    /tikz/column 6/.style={column sep=3.75mm},
    /tikz/column 8/.style={column sep=4.9mm}},
  legend image code/.code={\fill[#1] (0mm,-1.2mm) rectangle (8mm,1.2mm);},
]
\addplot[fill=cgray, draw=none, const plot, forget plot] table[x=x,y=tot]{\area} \closedcycle;
\addplot[fill=cgold, draw=none, const plot, forget plot] table[x=x,y=mod]{\area} \closedcycle;
\addplot[fill=cred2, draw=none, const plot, forget plot] table[x=x,y=sev]{\area} \closedcycle;
\addplot[fill=cdark, draw=none, const plot, forget plot] table[x=x,y=ext]{\area} \closedcycle;
\addplot[black, line width=1.6pt, dash pattern=on 3.1mm off 3.0mm, forget plot] coordinates {(1950,50) (2020,50)};
\addlegendimage{empty legend}\addlegendentry{Area affected by:}
\addlegendimage{fill=cgold, draw=none}\addlegendentry{Moderate drought}
\addlegendimage{fill=cred2, draw=none}\addlegendentry{Severe drought}
\addlegendimage{fill=cdark, draw=none}\addlegendentry{Extreme drought}
\addlegendimage{fill=cgray, draw=none}\addlegendentry{The three categories}
\end{axis}
\end{tikzpicture}
\end{document}
